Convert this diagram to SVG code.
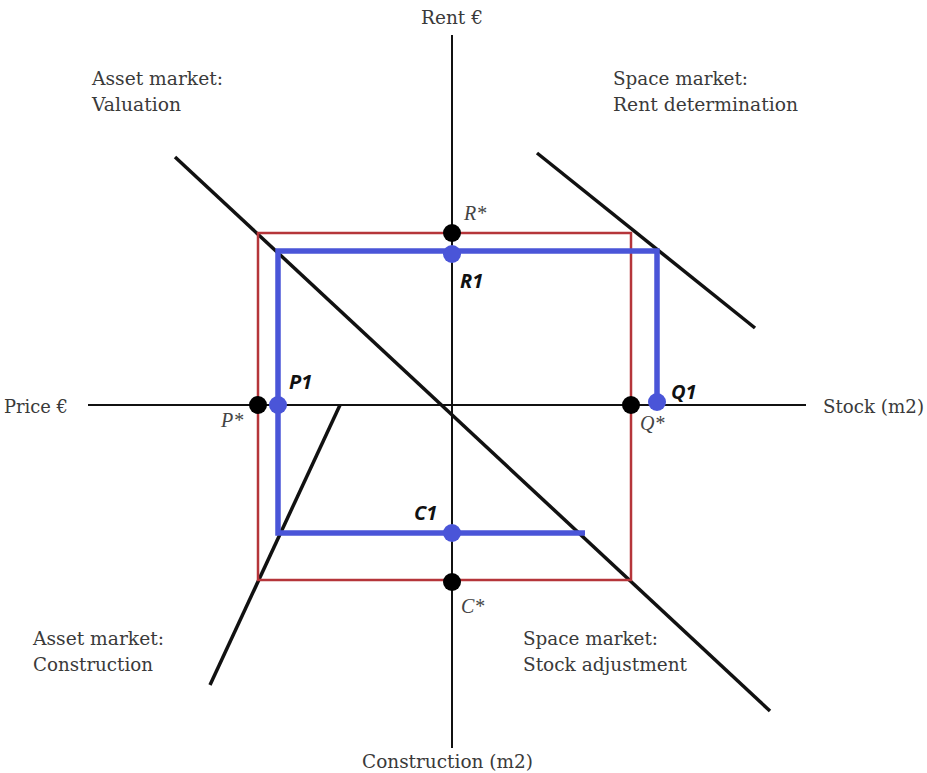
<svg xmlns="http://www.w3.org/2000/svg" width="927" height="773" viewBox="0 0 927 773">
<style>
.lbl{font-family:"DejaVu Serif","Liberation Serif",serif;font-size:18.5px;fill:#3a3a3a}
.star{font-family:"Liberation Serif",serif;font-style:italic;font-size:20px;fill:#444}
.pt{font-family:"Open Sans","DejaVu Sans",sans-serif;font-style:italic;font-weight:bold;font-size:20px;fill:#111}
.axis{stroke:#111;stroke-width:2;fill:none}
.curve{stroke:#111;stroke-width:3.5;fill:none}
.red{stroke:#b5353a;stroke-width:2.5;fill:none}
.blue{stroke:#4a55d8;stroke-width:5.5;fill:none;stroke-linejoin:miter}
.bdot{fill:#000}
.udot{fill:#4a55d8}
</style>
<rect width="927" height="773" fill="#fff"/>
<g id="connectors">
<line class="axis" x1="452" y1="35" x2="452" y2="748"/>
<line class="axis" x1="88" y1="405" x2="806" y2="405"/>
<line class="curve" x1="175" y1="157" x2="770" y2="711"/>
<line class="curve" x1="537" y1="153" x2="755" y2="328"/>
<line class="curve" x1="340" y1="405" x2="210" y2="685"/>
<rect class="red" x="258" y="233" width="373" height="347"/>
<polyline class="blue" points="657,403 657,251 278,251 278,533 585,533"/>
</g>
<g id="axis-labels">
<text class="lbl" x="452" y="24" text-anchor="middle">Rent €</text>
<text class="lbl" x="4" y="413" textLength="64" lengthAdjust="spacingAndGlyphs">Price €</text>
<text class="lbl" x="823" y="413" textLength="101" lengthAdjust="spacingAndGlyphs">Stock (m2)</text>
<text class="lbl" x="362" y="768" textLength="171" lengthAdjust="spacingAndGlyphs">Construction (m2)</text>
</g>
<g id="quadrant-labels">
<text class="lbl" x="92" y="85" textLength="131" lengthAdjust="spacingAndGlyphs">Asset market:</text>
<text class="lbl" x="92" y="111" textLength="89" lengthAdjust="spacingAndGlyphs">Valuation</text>
<text class="lbl" x="613" y="85" textLength="135" lengthAdjust="spacingAndGlyphs">Space market:</text>
<text class="lbl" x="613" y="111" textLength="185" lengthAdjust="spacingAndGlyphs">Rent determination</text>
<text class="lbl" x="33" y="645" textLength="131" lengthAdjust="spacingAndGlyphs">Asset market:</text>
<text class="lbl" x="33" y="671" textLength="120" lengthAdjust="spacingAndGlyphs">Construction</text>
<text class="lbl" x="523" y="645" textLength="135" lengthAdjust="spacingAndGlyphs">Space market:</text>
<text class="lbl" x="523" y="671" textLength="164" lengthAdjust="spacingAndGlyphs">Stock adjustment</text>
</g>
<g id="R-star"><circle class="bdot" cx="452" cy="233" r="9"/><text class="star" x="464" y="220">R*</text></g>
<g id="R1"><circle class="udot" cx="452" cy="254" r="9"/><text class="pt" x="460" y="288">R1</text></g>
<g id="P-star"><circle class="bdot" cx="258" cy="405" r="9"/><text class="star" x="221" y="427">P*</text></g>
<g id="P1"><circle class="udot" cx="278" cy="405" r="9"/><text class="pt" x="289" y="389">P1</text></g>
<g id="Q-star"><circle class="bdot" cx="631" cy="405" r="9"/><text class="star" x="640" y="430">Q*</text></g>
<g id="Q1"><circle class="udot" cx="657" cy="402" r="9"/><text class="pt" x="671" y="399">Q1</text></g>
<g id="C1"><circle class="udot" cx="452" cy="533" r="9"/><text class="pt" x="414" y="520">C1</text></g>
<g id="C-star"><circle class="bdot" cx="452" cy="582" r="9"/><text class="star" x="461" y="613">C*</text></g>
</svg>
